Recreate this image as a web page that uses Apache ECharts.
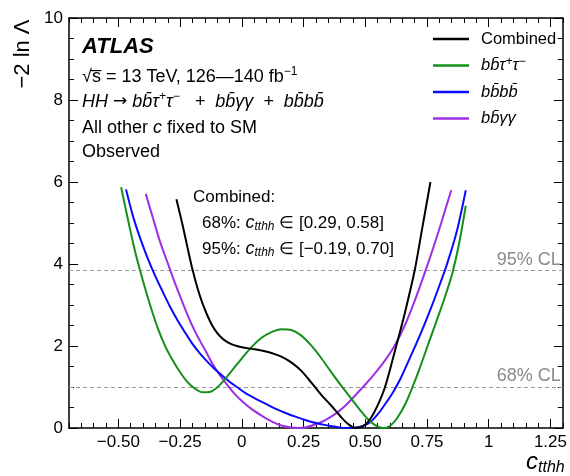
<!DOCTYPE html>
<html>
<head>
<meta charset="utf-8">
<script src="https://cdn.jsdelivr.net/npm/echarts@6/dist/echarts.min.js"></script>
<style>
  html, body { margin: 0; padding: 0; background: #fff; }
  #chart { width: 570px; height: 476px; }
</style>
</head>
<body>
<div id="chart"></div>
<script>
// ---- data ----
const seriesNames = ['Combined', 'bb̄τ⁺τ⁻', 'bb̄bb̄', 'bb̄γγ'];
const seriesColors = ['#000000', '#14901a', '#0a0aff', '#9c2fe4'];

const cCombined = [-0.265, -0.24, -0.22, -0.20, -0.18, -0.16, -0.14, -0.12, -0.10, -0.08, -0.06, -0.04, -0.02, 0.0, 0.04, 0.08, 0.12, 0.16, 0.20, 0.24, 0.28, 0.32, 0.36, 0.40, 0.43, 0.46, 0.49, 0.52, 0.55, 0.58, 0.62, 0.66, 0.70, 0.73, 0.764];
const nllCombined = [5.58, 4.95, 4.40, 3.87, 3.42, 3.05, 2.75, 2.50, 2.32, 2.19, 2.10, 2.04, 2.00, 1.97, 1.93, 1.89, 1.83, 1.74, 1.60, 1.40, 1.12, 0.82, 0.56, 0.28, 0.10, 0.0, 0.04, 0.22, 0.55, 1.0, 1.88, 2.80, 3.84, 4.85, 6.0];

const cBbtautau = [-0.489, -0.46, -0.43, -0.40, -0.37, -0.34, -0.31, -0.28, -0.25, -0.22, -0.19, -0.16, -0.13, -0.10, -0.07, -0.04, 0.0, 0.04, 0.08, 0.12, 0.16, 0.20, 0.24, 0.28, 0.32, 0.36, 0.40, 0.44, 0.48, 0.51, 0.54, 0.57, 0.60, 0.63, 0.66, 0.69, 0.72, 0.76, 0.80, 0.83, 0.853, 0.88, 0.907];
const nllBbtautau = [5.87, 5.05, 4.25, 3.58, 2.97, 2.43, 1.99, 1.65, 1.36, 1.12, 0.96, 0.87, 0.88, 0.99, 1.18, 1.40, 1.70, 1.98, 2.20, 2.34, 2.41, 2.39, 2.26, 2.02, 1.72, 1.38, 1.05, 0.74, 0.43, 0.22, 0.07, 0.0, 0.05, 0.25, 0.56, 0.98, 1.45, 2.13, 2.80, 3.33, 3.78, 4.50, 5.42];

const cBbbb = [-0.469, -0.44, -0.41, -0.38, -0.35, -0.32, -0.29, -0.26, -0.23, -0.20, -0.17, -0.14, -0.11, -0.08, -0.05, -0.02, 0.02, 0.06, 0.10, 0.14, 0.18, 0.22, 0.26, 0.30, 0.34, 0.38, 0.42, 0.46, 0.49, 0.52, 0.55, 0.58, 0.61, 0.64, 0.68, 0.72, 0.76, 0.80, 0.83, 0.87, 0.907];
const nllBbbb = [5.82, 5.15, 4.60, 4.12, 3.70, 3.32, 2.95, 2.62, 2.33, 2.05, 1.82, 1.62, 1.44, 1.28, 1.13, 1.00, 0.83, 0.70, 0.58, 0.46, 0.36, 0.27, 0.19, 0.12, 0.07, 0.03, 0.0, 0.01, 0.05, 0.14, 0.33, 0.58, 0.85, 1.17, 1.70, 2.24, 2.83, 3.47, 3.98, 4.78, 5.80];

const cBbyy = [-0.389, -0.36, -0.33, -0.30, -0.27, -0.24, -0.21, -0.18, -0.15, -0.12, -0.09, -0.06, -0.03, 0.0, 0.04, 0.08, 0.12, 0.16, 0.20, 0.23, 0.26, 0.30, 0.34, 0.38, 0.42, 0.46, 0.50, 0.54, 0.58, 0.62, 0.66, 0.70, 0.744, 0.78, 0.81, 0.848];
const nllBbyy = [5.71, 5.12, 4.52, 4.02, 3.52, 3.06, 2.62, 2.24, 1.92, 1.58, 1.30, 1.06, 0.84, 0.66, 0.46, 0.30, 0.16, 0.06, 0.01, 0.0, 0.02, 0.09, 0.20, 0.35, 0.55, 0.80, 1.06, 1.34, 1.65, 2.02, 2.50, 3.10, 3.84, 4.48, 5.05, 5.80];

// axis ticks
const xTickValues = [-0.5, -0.25, 0, 0.25, 0.5, 0.75, 1, 1.25];
const xTickLabels = ['−0.50', '−0.25', '0', '0.25', '0.50', '0.75', '1', '1.25'];
const xMinorTicks = [];
for (let i = -14; i <= 26; i++) xMinorTicks.push(+(i * 0.05).toFixed(2));

// CL thresholds
const clValues = [3.84, 1];
const clLabels = ['95% CL', '68% CL'];

// ---- chart ----
const FONT = '"Liberation Sans", Arial, Helvetica, sans-serif';
const chart = echarts.init(document.getElementById('chart'), null, { renderer: 'canvas' });

const pares = (xs, ys) => xs.map((x, i) => [x, ys[i]]);
const curvas = [
    pares(cCombined, nllCombined),
    pares(cBbtautau, nllBbtautau),
    pares(cBbbb, nllBbbb),
    pares(cBbyy, nllBbyy)
];

function ejeX(pos, ticks, len, showLine, showLabels) {
    return {
        type: 'value', position: pos, min: -0.7, max: 1.3,
        axisLine: { show: showLine, onZero: false, lineStyle: { color: '#000', width: 1.5 } },
        axisTick: { show: true, inside: true, length: len, customValues: ticks, lineStyle: { color: '#000', width: 1 } },
        axisLabel: showLabels ? {
            show: true, customValues: xTickValues, margin: 6,
            color: '#000', fontSize: 17, fontFamily: FONT,
            formatter: v => {
                const k = xTickValues.findIndex(t => Math.abs(t - v) < 1e-6);
                return k >= 0 ? xTickLabels[k] : '';
            }
        } : { show: false },
        splitLine: { show: false }
    };
}

function ejeY(pos, showLabels) {
    return {
        type: 'value', position: pos, min: 0, max: 10, interval: 2,
        axisLine: { show: true, onZero: false, lineStyle: { color: '#000', width: 1.5 } },
        axisTick: { show: true, inside: true, length: 9, lineStyle: { color: '#000', width: 1 } },
        minorTick: { show: true, splitNumber: 4, length: 5, lineStyle: { color: '#000', width: 1 } },
        axisLabel: { show: showLabels, margin: 6, color: '#000', fontSize: 17, fontFamily: FONT },
        splitLine: { show: false }
    };
}

const series = curvas.map((d, i) => ({
    name: seriesNames[i],
    type: 'line',
    data: d,
    smooth: 0.3,
    showSymbol: false,
    color: seriesColors[i],
    lineStyle: { width: 2, color: seriesColors[i] },
    z: 10 - i
}));

series[0].markLine = {
    silent: true,
    symbol: ['none', 'none'],
    lineStyle: { color: '#999', type: [4, 3], width: 1 },
    label: {
        position: 'insideEndTop', formatter: '{b}', color: '#8a8a8a',
        fontSize: 18, fontFamily: FONT, distance: [2, 2]
    },
    data: clValues.map((v, i) => ({ yAxis: v, name: clLabels[i] }))
};

// rich text pieces (italic, superscript, subscript)
const it = (size, lh) => ({ fontStyle: 'italic', fontSize: size, fontFamily: FONT, lineHeight: lh });
const up = size => ({ fontStyle: 'italic', fontSize: size, fontFamily: FONT, lineHeight: 12, verticalAlign: 'top' });
const legendTexts = {
    'Combined': 'Combined',
    'bb̄τ⁺τ⁻': '{i|bb̄τ}{p|+}{i|τ}{p|−}',
    'bb̄bb̄': '{i|bb̄bb̄}',
    'bb̄γγ': '{i|bb̄γγ}'
};

const option = {
    animation: false,
    backgroundColor: '#fff',
    grid: { left: 69, right: 1, top: 18, bottom: 48, containLabel: false },
    xAxis: [
        ejeX('bottom', xTickValues, 9, true, true),
        ejeX('bottom', xMinorTicks, 5, false, false),
        ejeX('top', xTickValues, 9, true, false),
        ejeX('top', xMinorTicks, 5, false, false)
    ],
    yAxis: [ejeY('left', true), ejeY('right', false)],
    legend: {
        orient: 'vertical', left: 428, top: 24,
        icon: 'rect', itemWidth: 36, itemHeight: 2.5, itemGap: 6.5,
        data: seriesNames,
        formatter: n => legendTexts[n],
        textStyle: {
            color: '#000', fontSize: 16.5, fontFamily: FONT, lineHeight: 20,
            padding: [0, 0, 0, 7], rich: { i: it(16.5, 20), p: up(12) }
        }
    },
    graphic: [
        { type: 'text', x: 23, y: 54, rotation: Math.PI / 2,
          style: { text: '−2 ln Λ', font: '22px ' + FONT, fill: '#000', align: 'center', verticalAlign: 'middle' } },
        { type: 'text', x: 526, y: 462,
          style: {
              text: '{c|c}{s|tthh}', fill: '#000', verticalAlign: 'middle',
              rich: {
                  c: it(24, 28),
                  s: { fontStyle: 'italic', fontSize: 16, fontFamily: FONT, lineHeight: 14, verticalAlign: 'bottom' }
              }
          } },
        { type: 'text', x: 82, y: 47,
          style: { text: 'ATLAS', font: 'italic bold 22px ' + FONT, fill: '#000', verticalAlign: 'middle' } },
        { type: 'text', x: 82, y: 77,
          style: {
              text: '{n|√s̅ = 13 TeV, 126—140 fb}{p|−1}', fill: '#000', verticalAlign: 'middle',
              rich: { n: { fontSize: 18, fontFamily: FONT, lineHeight: 22 }, p: { fontSize: 12, fontFamily: FONT, lineHeight: 12, verticalAlign: 'top' } }
          } },
        { type: 'text', x: 82, y: 102,
          style: {
              text: '{i|HH }{a|→}{i| bb̄τ}{p|+}{i|τ}{p|−}{i|   +  bb̄γγ  +  bb̄bb̄}', fill: '#000', verticalAlign: 'middle',
              rich: { i: it(18, 22), p: up(12), a: { fontSize: 17, fontFamily: '"DejaVu Sans", sans-serif', lineHeight: 22 } }
          } },
        { type: 'text', x: 82, y: 128,
          style: {
              text: '{n|All other }{i|c}{n| fixed to SM}', fill: '#000', verticalAlign: 'middle',
              rich: { n: { fontSize: 18, fontFamily: FONT }, i: { fontSize: 18, fontFamily: FONT, fontStyle: 'italic' } }
          } },
        { type: 'text', x: 82, y: 152,
          style: { text: 'Observed', font: '18px ' + FONT, fill: '#000', verticalAlign: 'middle' } },
        { type: 'text', x: 193, y: 197,
          style: { text: 'Combined:', font: '17px ' + FONT, fill: '#000', verticalAlign: 'middle' } },
        { type: 'text', x: 202, y: 223,
          style: {
              text: '{n|68%: }{i|c}{s|tthh}{n| ∈ [0.29, 0.58]}', fill: '#000', verticalAlign: 'middle',
              rich: {
                  n: { fontSize: 17, fontFamily: FONT, lineHeight: 20 },
                  i: it(18, 20),
                  s: { fontSize: 12, fontFamily: FONT, fontStyle: 'italic', lineHeight: 12, verticalAlign: 'bottom' }
              }
          } },
        { type: 'text', x: 202, y: 249,
          style: {
              text: '{n|95%: }{i|c}{s|tthh}{n| ∈ [−0.19, 0.70]}', fill: '#000', verticalAlign: 'middle',
              rich: {
                  n: { fontSize: 17, fontFamily: FONT, lineHeight: 20 },
                  i: it(18, 20),
                  s: { fontSize: 12, fontFamily: FONT, fontStyle: 'italic', lineHeight: 12, verticalAlign: 'bottom' }
              }
          } }
    ],
    series: series
};

chart.setOption(option);
</script>
</body>
</html>
